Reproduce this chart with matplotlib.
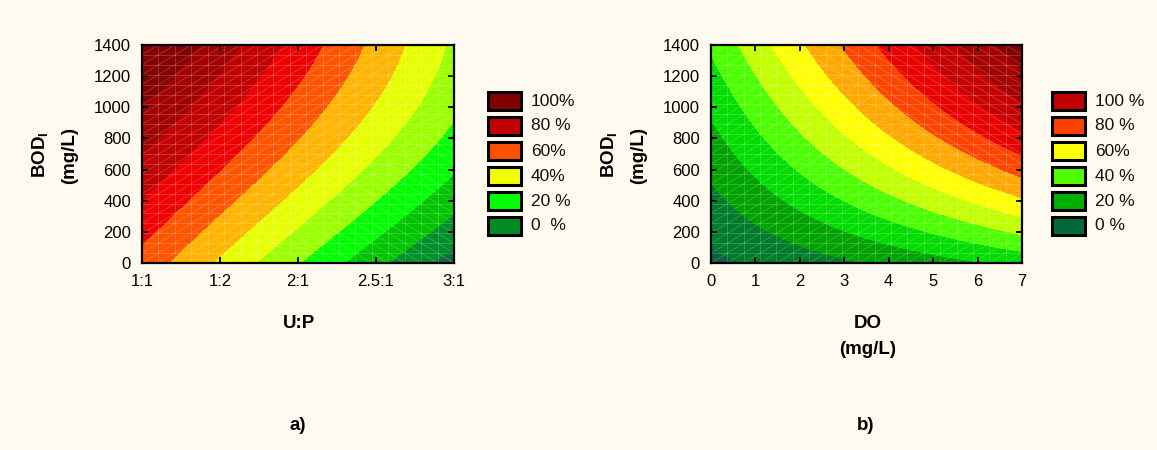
import numpy as np
import matplotlib
matplotlib.use("Agg")
import matplotlib.pyplot as plt
from matplotlib.patches import Rectangle
from matplotlib.collections import LineCollection

plt.rcParams['font.family'] = ['Liberation Sans', 'DejaVu Sans']
plt.rcParams['mathtext.fontset'] = 'custom'
plt.rcParams['mathtext.rm'] = 'Liberation Sans'
plt.rcParams['mathtext.bf'] = 'Liberation Sans:bold'
plt.rcParams['mathtext.it'] = 'Liberation Sans:italic'

BG = '#fefaf0'

# ---------------- data ----------------
bod_ticks = [0, 200, 400, 600, 800, 1000, 1200, 1400]
up_ticks = [1.0, 1.5, 2.0, 2.5, 3.0]
up_labels = ["1:1", "1:2", "2:1", "2.5:1", "3:1"]
do_ticks = [0, 1, 2, 3, 4, 5, 6, 7]

# fitted response-surface coefficients (% removal) on normalised axes t (x), s (BOD)
# terms: 1, t, s, s^2, t*s, t^2*s, t*s^2
left_coef = [66.0, -71.0, 48.0, 0.0, 25.6, 0.0, -30.6]
right_coef = [7.5, 25.5, 34.0, 0.0, 116.3, -13.5, -43.8]

left_levels = [-50, 0, 10, 20, 30, 40, 50, 60, 70, 80, 90, 100, 200]
left_colors = ['#17693f', '#00902a', '#00c400', '#00ff00', '#9cff00', '#e6ff00',
               '#ffb400', '#ff5500', '#ee0000', '#c00000', '#a00000', '#840000']
right_levels = [-50, 10, 20, 30, 40, 50, 60, 70, 80, 90, 100, 110, 120, 200]
right_colors = ['#0b5f42', '#007b2a', '#00a200', '#00dc00', '#4cff00', '#c2ff00',
                '#ffff00', '#ffa800', '#ff4400', '#e80000', '#c40000', '#a40000', '#820000']

left_legend_labels = ["100%", "80 %", "60%", "40%", "20 %", "0  %"]
left_legend_colors = ['#800000', '#c00000', '#ff5000', '#eeff00', '#00ff00', '#008c20']
right_legend_labels = ["100 %", "80 %", "60%", "40 %", "20 %", "0 %"]
right_legend_colors = ['#c00000', '#ff4000', '#ffff00', '#50ff00', '#00b000', '#006a3a']

W, H = 1157, 450
fig = plt.figure(figsize=(W / 100, H / 100), dpi=100, facecolor=BG)


def surface(coef, t, s):
    c = coef
    return (c[0] + c[1] * t + c[2] * s + c[3] * s ** 2 + c[4] * t * s
            + c[5] * t ** 2 * s + c[6] * t * s ** 2)


def mesh(ax, x0, x1, y0, y1, nx, ny, flip):
    xs = np.linspace(x0, x1, nx + 1)
    ys = np.linspace(y0, y1, ny + 1)
    segs = []
    for x in xs:
        segs.append([(x, y0), (x, y1)])
    for y in ys:
        segs.append([(x0, y), (x1, y)])
    for i in range(nx):
        for j in range(ny):
            t = (i + 0.5) / nx
            s = (j + 0.5) / ny
            if flip(t, s):
                segs.append([(xs[i], ys[j + 1]), (xs[i + 1], ys[j])])
            else:
                segs.append([(xs[i], ys[j]), (xs[i + 1], ys[j + 1])])
    lc = LineCollection(segs, colors='white', linewidths=0.6, alpha=0.22, zorder=2)
    ax.add_collection(lc)


def px_axes(x0, y0, x1, y1):
    return fig.add_axes([x0 / W, 1 - y1 / H, (x1 - x0) / W, (y1 - y0) / H])


def style(ax):
    ax.set_facecolor(BG)
    for sp in ax.spines.values():
        sp.set_linewidth(1.6)
        sp.set_zorder(5)
    ax.tick_params(direction='in', length=4, width=1.4, top=True, right=True,
                   labelsize=12, pad=8)
    ax.set_yticks(bod_ticks)
    ax.set_ylim(0, 1400)


def legend(x_box, labels, colors):
    y_centers = [101, 126, 151, 176, 201, 226]
    for lab, col, yc in zip(labels, colors, y_centers):
        r = Rectangle((x_box / W, 1 - (yc + 9) / H), 33 / W, 18 / H,
                      transform=fig.transFigure, facecolor=col,
                      edgecolor='black', linewidth=2.2)
        fig.add_artist(r)
        fig.text((x_box + 43) / W, 1 - yc / H, lab, fontsize=12.5,
                 va='center', ha='left', color='#111111')


LBL = 13.5

# ---------------- panel a ----------------
axa = px_axes(142, 45, 454, 263)
xg = np.linspace(1, 3, 300)
yg = np.linspace(0, 1400, 300)
X, Y = np.meshgrid(xg, yg)
Z = surface(left_coef, (X - 1) / 2, Y / 1400)
axa.contourf(X, Y, Z, levels=left_levels, colors=left_colors, zorder=1)
mesh(axa, 1, 3, 0, 1400, 19, 22, lambda t, s: (t - s) > 0.35)
style(axa)
axa.set_xlim(1, 3)
axa.set_xticks(up_ticks)
axa.set_xticklabels(up_labels)
legend(488, left_legend_labels, left_legend_colors)

fig.text(40 / W, 1 - 155 / H, r"$\mathbf{BOD_I}$", rotation=90, fontsize=LBL,
         ha='center', va='center')
fig.text(70 / W, 1 - 155 / H, "(mg/L)", rotation=90, fontsize=LBL, fontweight='bold',
         ha='center', va='center')
fig.text(299 / W, 1 - 324 / H, "U:P", fontsize=LBL, fontweight='bold',
         ha='center', va='center')
fig.text(298 / W, 1 - 425 / H, "a)", fontsize=LBL, fontweight='bold',
         ha='center', va='center')

# ---------------- panel b ----------------
axb = px_axes(711, 45, 1022, 263)
xg = np.linspace(0, 7, 300)
X, Y = np.meshgrid(xg, yg)
Z = surface(right_coef, X / 7, Y / 1400)
axb.contourf(X, Y, Z, levels=right_levels, colors=right_colors, zorder=1)
mesh(axb, 0, 7, 0, 1400, 19, 22, lambda t, s: (t + s) > 1.25)
style(axb)
axb.set_xlim(0, 7)
axb.set_xticks(do_ticks)
legend(1052, right_legend_labels, right_legend_colors)

fig.text(609 / W, 1 - 155 / H, r"$\mathbf{BOD_I}$", rotation=90, fontsize=LBL,
         ha='center', va='center')
fig.text(639 / W, 1 - 155 / H, "(mg/L)", rotation=90, fontsize=LBL, fontweight='bold',
         ha='center', va='center')
fig.text(868 / W, 1 - 324 / H, "DO", fontsize=LBL, fontweight='bold',
         ha='center', va='center')
fig.text(868 / W, 1 - 350 / H, "(mg/L)", fontsize=LBL, fontweight='bold',
         ha='center', va='center')
fig.text(866 / W, 1 - 425 / H, "b)", fontsize=LBL, fontweight='bold',
         ha='center', va='center')

fig.savefig("out.png", dpi=100, facecolor=BG)
